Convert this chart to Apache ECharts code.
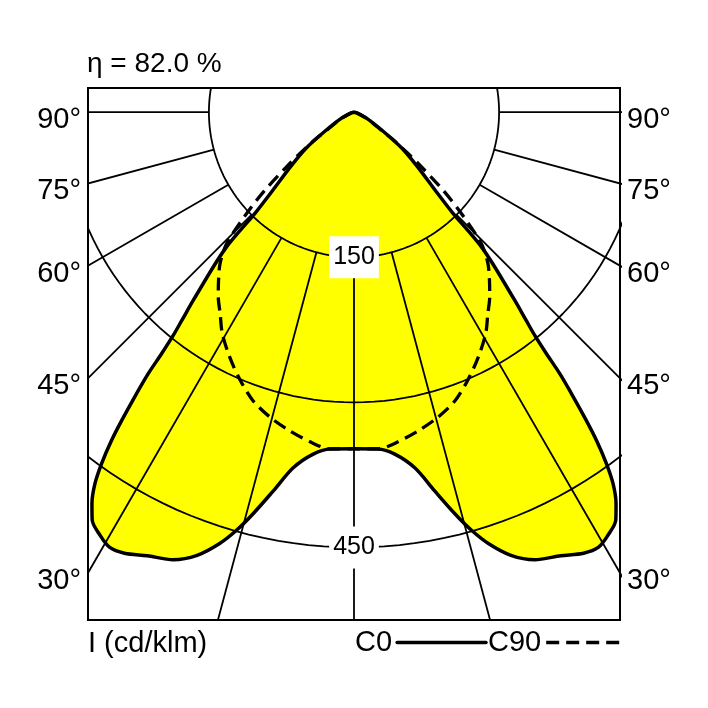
<!DOCTYPE html>
<html><head><meta charset="utf-8">
<script src="https://cdn.jsdelivr.net/npm/echarts@6/dist/echarts.min.js"></script>
<style>html,body{margin:0;padding:0;background:#fff}#c{width:708px;height:708px}</style>
</head><body><div id="c"></div>
<script>
// ---- data (angle from nadir in degrees, intensity in cd/klm) ----
const c0Angles  = [0, 4, 6.8, 9.7, 12, 14.1, 15.7, 17.3, 19.5, 22, 25, 27.5, 29.3, 31, 32.7, 33.8, 34.9, 35.7, 36.45, 37.0, 37.6, 38.2, 38.55, 39.0, 39.6, 40.5, 42.3, 43.4, 43.9, 44.4, 46.0, 49.3, 53.1, 56.8, 63.4, 75, 90];
const c0Values  = [348, 349, 356, 373, 400, 428, 449, 467, 486, 499, 506, 514, 516, 510, 501, 487, 468, 447, 422, 399, 372, 344, 319, 297, 279, 256, 216, 192, 170, 146, 118, 87, 62, 36, 16, 3, 0];
const c90Angles = [0, 4.1, 7, 11.4, 15.4, 19.3, 23, 26.9, 30.8, 33.6, 36.3, 38.9, 41.5, 43.8, 44.8, 46.7, 48.7, 51.3, 52.6, 55, 57.9, 63.4, 75, 90];
const c90Values = [348, 349, 345, 336, 327, 316, 301, 284, 266, 250, 237, 223, 209, 192, 180, 152, 124, 86, 70, 48, 27, 16, 3, 0];
const ringValues = [150, 300, 450];
const ringLabelValues = [150, 450];
const spokeAngles = [-90, -75, -60, -45, -30, -15, 0, 15, 30, 45, 60, 75, 90];
const sideTickAngles = [90, 75, 60, 45, 30];
const sideTickLabels = ['90°', '75°', '60°', '45°', '30°'];
const seriesNames = ['C0', 'C90'];
const efficiencyText = 'η = 82.0 %';
const unitText = 'I (cd/klm)';

// ---- helpers ----
const FONT = '"Liberation Sans", Arial, sans-serif';
const X_HALF = 275, Y_MAX = 25, Y_MIN = -525, SPOKE_START = 150, SPOKE_END = 800;
const SMOOTH = 0.3;
const rad = d => d * Math.PI / 180;
const toXY = (a, r) => [r * Math.sin(rad(a)), -r * Math.cos(rad(a))];
function symmetricCurve(angles, values) {
  const left = angles.map((a, i) => toXY(-a, values[i])).reverse();
  const right = angles.map((a, i) => toXY(a, values[i])).slice(1);
  return left.concat(right);
}
const c0Points = symmetricCurve(c0Angles, c0Values);
const c90Points = symmetricCurve(c90Angles, c90Values);

const gridLine = { color: '#000', width: 1.8 };
const series = [];
// yellow fill of C0 (area closes along y = 0, where the curve starts and ends)
series.push({ type: 'line', z: 1, silent: true, symbol: 'none', smooth: SMOOTH, data: c0Points,
  lineStyle: { width: 0, opacity: 0 }, areaStyle: { color: '#ffff00', opacity: 1, origin: 0 } });
// rings
ringValues.forEach(r => {
  const pts = [];
  for (let a = 0; a <= 360; a += 2) pts.push(toXY(a, r));
  series.push({ type: 'line', z: 2, silent: true, symbol: 'none', data: pts, lineStyle: gridLine });
});
// spokes
spokeAngles.forEach(a => {
  series.push({ type: 'line', z: 2, silent: true, symbol: 'none',
    data: [toXY(a, SPOKE_START), toXY(a, SPOKE_END)], lineStyle: gridLine });
});
// ring value labels
series.push({
  type: 'scatter', z: 3, silent: true, symbolSize: 0, clip: false, itemStyle: { opacity: 1 },
  data: ringLabelValues.map(v => ({ value: [0, -v], label: { formatter: String(v) } })),
  label: { show: true, position: 'inside', fontSize: 25, fontFamily: FONT, color: '#000', opacity: 1,
    backgroundColor: '#fff', padding: [9, 4, 8, 4] }
});
// side angle labels
const sideLabelStyle = { show: true, fontSize: 29, fontFamily: FONT, color: '#000', opacity: 1, distance: 7, offset: [0, 8] };
series.push({
  type: 'scatter', z: 3, silent: true, symbolSize: 0, clip: false, itemStyle: { opacity: 1 },
  data: sideTickAngles.map((a, i) => ({ value: [-X_HALF, -X_HALF / Math.tan(rad(a))], label: { formatter: sideTickLabels[i] } })),
  label: Object.assign({ position: 'left' }, sideLabelStyle)
});
series.push({
  type: 'scatter', z: 3, silent: true, symbolSize: 0, clip: false, itemStyle: { opacity: 1 },
  data: sideTickAngles.map((a, i) => ({ value: [X_HALF, -X_HALF / Math.tan(rad(a))], label: { formatter: sideTickLabels[i] } })),
  label: Object.assign({ position: 'right' }, sideLabelStyle)
});
// curves
series.push({ name: seriesNames[0], type: 'line', z: 4, silent: true, symbol: 'none', smooth: SMOOTH, data: c0Points,
  lineStyle: { color: '#000', width: 3.5, join: 'round', cap: 'round' }, itemStyle: { color: '#000' } });
series.push({ name: seriesNames[1], type: 'line', z: 5, silent: true, symbol: 'none', smooth: SMOOTH, data: c90Points,
  lineStyle: { color: '#000', width: 3.3, type: [13, 7] }, itemStyle: { color: '#000' } });

const legendCommon = { top: 628, padding: 0, align: 'right', itemHeight: 14, selectedMode: false,
  itemStyle: { opacity: 0 }, lineStyle: { width: 3.3 },
  textStyle: { fontSize: 29, fontFamily: FONT, color: '#000', padding: [13, 0, 0, 0] } };

const chart = echarts.init(document.getElementById('c'), null, { renderer: 'canvas' });
chart.setOption({
  animation: false,
  backgroundColor: '#fff',
  title: [
    { text: efficiencyText, left: 87, top: 50, padding: 0,
      textStyle: { fontSize: 28, fontWeight: 'normal', fontFamily: FONT, color: '#000' } },
    { text: unitText, left: 88, top: 629, padding: 0,
      textStyle: { fontSize: 29, fontWeight: 'normal', fontFamily: FONT, color: '#000' } }
  ],
  legend: [
    Object.assign({ data: [seriesNames[0]], left: 355, itemWidth: 89 }, legendCommon),
    Object.assign({ data: [seriesNames[1]], left: 488, itemWidth: 74 }, legendCommon)
  ],
  grid: { left: 88, right: 88, top: 88, bottom: 88, show: true, borderColor: '#000', borderWidth: 2 },
  xAxis: { type: 'value', min: -X_HALF, max: X_HALF, show: false },
  yAxis: { type: 'value', min: Y_MIN, max: Y_MAX, show: false },
  series: series
});
</script></body></html>
